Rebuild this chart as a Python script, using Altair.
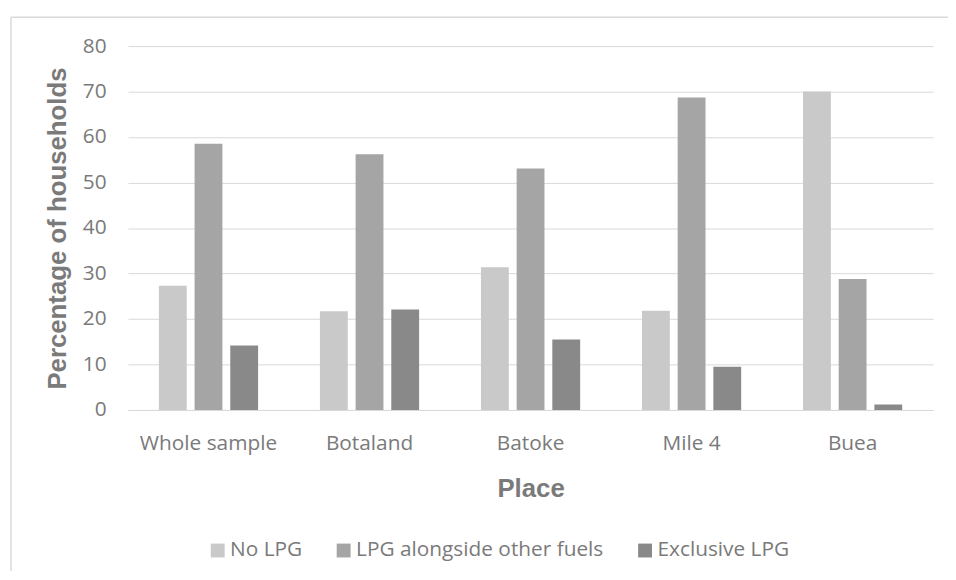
import altair as alt
import pandas as pd

places = ["Whole sample", "Botaland", "Batoke", "Mile 4", "Buea"]
series = ["No LPG", "LPG alongside other fuels", "Exclusive LPG"]
no_lpg = [27.3, 21.7, 31.4, 21.8, 70.0]
alongside = [58.5, 56.2, 53.1, 68.7, 28.8]
exclusive = [14.2, 22.1, 15.5, 9.5, 1.2]
y_ticks = [0, 10, 20, 30, 40, 50, 60, 70, 80]
colors = ["#c9c9c9", "#a5a5a5", "#898989"]

rows = []
for i, p in enumerate(places):
    for s, vals in zip(series, [no_lpg, alongside, exclusive]):
        rows.append({"place": p, "series": s, "value": vals[i]})
df = pd.DataFrame(rows)

TXT = "#7a7a7a"
GRID = "#d9d9d9"

bars = alt.Chart(df).mark_bar().encode(
    x=alt.X(
        "place:N",
        sort=places,
        scale=alt.Scale(paddingInner=0.384, paddingOuter=0.192),
        axis=alt.Axis(
            title="Place",
            labelAngle=0,
            labelFont="Open Sans",
            labelFontSize=21,
            labelColor=TXT,
            labelPadding=23,
            ticks=False,
            tickSize=0,
            domainColor=GRID,
            domainWidth=1,
            titleFont="Liberation Sans",
            titleFontSize=26,
            titleFontWeight="bold",
            titleColor=TXT,
            titleBaseline="alphabetic",
            titleY=87,
        ),
    ),
    xOffset=alt.XOffset(
        "series:N", sort=series, scale=alt.Scale(paddingInner=0.22, paddingOuter=0)
    ),
    y=alt.Y(
        "value:Q",
        scale=alt.Scale(domain=[0, 80], nice=False),
        axis=alt.Axis(
            values=y_ticks,
            title="Percentage of households",
            labelFont="Open Sans",
            labelFontSize=21,
            labelColor=TXT,
            labelPadding=22,
            ticks=False,
            tickSize=0,
            domain=False,
            gridColor=GRID,
            gridWidth=1,
            titleFont="Liberation Sans",
            titleFontSize=26,
            titleFontWeight="bold",
            titleColor=TXT,
            titleBaseline="alphabetic",
            titleX=-63,
        ),
    ),
    color=alt.Color(
        "series:N",
        sort=series,
        scale=alt.Scale(domain=series, range=colors),
        legend=alt.Legend(
            title=None,
            orient="none",
            direction="horizontal",
            legendX=80,
            legendY=498,
            symbolType="square",
            symbolSize=196,
            symbolStrokeWidth=0,
            labelFont="Open Sans",
            labelFontSize=21,
            labelColor=TXT,
            labelOffset=2,
            labelLimit=500,
            columnPadding=31,
            padding=0,
        ),
    ),
)

one = alt.Data(values=[{"k": 1}])
border_left = alt.Chart(one).mark_rule(color=GRID, strokeWidth=1.5).encode(
    x=alt.value(-118), y=alt.value(-29), y2=alt.value(545)
)
border_top = alt.Chart(one).mark_rule(color=GRID, strokeWidth=1.5).encode(
    x=alt.value(-118), x2=alt.value(830), y=alt.value(-29)
)

chart = (
    alt.layer(border_left, border_top, bars)
    .properties(
        width=812,
        height=367,
        autosize=alt.AutoSizeParams(type="none"),
        padding={"left": 121, "top": 36, "right": 15, "bottom": 160},
    )
    .configure_view(stroke="transparent")
)

chart.save("out.html", embed_options={"renderer": "svg", "actions": False})
